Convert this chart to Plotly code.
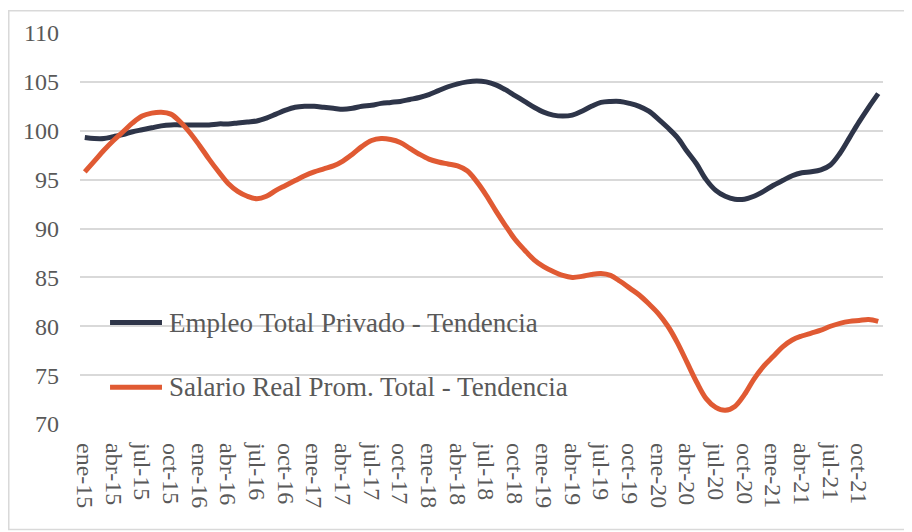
import plotly.graph_objects as go

# meses ene-15 .. dic-21
mes_nombres = ['ene', 'feb', 'mar', 'abr', 'may', 'jun',
               'jul', 'ago', 'sep', 'oct', 'nov', 'dic']
anios = ['15', '16', '17', '18', '19', '20', '21']
meses = [m + '-' + a for a in anios for m in mes_nombres]
ticks = meses[::3]

empleo = [
    99.3, 99.2, 99.2, 99.4, 99.6, 99.9, 100.1, 100.3, 100.5, 100.6, 100.6, 100.6,
    100.6, 100.6, 100.7, 100.7, 100.8, 100.9, 101.0, 101.3, 101.7, 102.1, 102.4, 102.5,
    102.5, 102.4, 102.3, 102.2, 102.3, 102.5, 102.6, 102.8, 102.9, 103.0, 103.2, 103.4,
    103.7, 104.1, 104.5, 104.8, 105.0, 105.1, 105.0, 104.7, 104.2, 103.6, 103.0, 102.4,
    101.9, 101.6, 101.5, 101.6, 102.0, 102.5, 102.9, 103.0, 103.0, 102.8, 102.5, 102.0,
    101.2, 100.3, 99.3, 97.9, 96.6, 95.0, 93.9, 93.3, 93.0, 93.0, 93.3, 93.8,
    94.4, 94.9, 95.4, 95.7, 95.8, 96.0, 96.5, 97.7, 99.3, 100.9, 102.4, 103.8,
]

salario = [
    95.8, 96.9, 98.0, 99.0, 99.9, 100.8, 101.5, 101.8, 101.9, 101.7, 100.9, 99.8,
    98.5, 97.1, 95.8, 94.6, 93.8, 93.3, 93.05, 93.3, 93.9, 94.4, 94.9, 95.4,
    95.8, 96.1, 96.4, 96.9, 97.6, 98.4, 99.0, 99.2, 99.1, 98.8, 98.2, 97.6,
    97.1, 96.8, 96.6, 96.4, 95.9, 94.8, 93.4, 91.8, 90.3, 88.9, 87.8, 86.8,
    86.1, 85.6, 85.2, 85.0, 85.1, 85.3, 85.4, 85.2, 84.6, 83.9, 83.2, 82.3,
    81.3, 80.0, 78.3, 76.3, 74.3, 72.6, 71.7, 71.4, 71.8, 73.0, 74.6, 75.9,
    76.9, 77.9, 78.6, 79.0, 79.3, 79.6, 80.0, 80.3, 80.5, 80.6, 80.7, 80.5,
]

nombres = ['Empleo Total Privado - Tendencia',
           'Salario Real Prom. Total - Tendencia']
colores = ['#2E3549', '#E05A33']

fuente = 'Liberation Serif'
gris_texto = '#595959'
gris_linea = '#D9D9D9'

fig = go.Figure()
for serie, nombre, color in zip([empleo, salario], nombres, colores):
    fig.add_trace(go.Scatter(
        x=meses, y=serie, mode='lines', name=nombre,
        line=dict(color=color, width=5, shape='spline')))

# leyenda dibujada a mano dentro del area (lineas largas como en Excel)
shapes = [dict(type='rect', xref='paper', yref='paper',
               x0=-0.0887, x1=1.0336, y0=-0.2697, y1=1.0566,
               line=dict(color=gris_linea, width=1.5))]
annotations = []
for fila, (nombre, color) in enumerate(zip(nombres, colores)):
    yl = 0.2595 - fila * 0.1654
    shapes.append(dict(type='line', xref='paper', yref='paper',
                       x0=0.0374, x1=0.1021, y0=yl, y1=yl,
                       line=dict(color=color, width=5)))
    annotations.append(dict(xref='paper', yref='paper', x=0.1083, y=yl,
                            xanchor='left', yanchor='middle', showarrow=False,
                            text=nombre,
                            font=dict(family=fuente, size=27, color=gris_texto)))

fig.update_layout(
    width=904, height=524,
    margin=dict(l=72, r=29, t=23, b=108),
    paper_bgcolor='white', plot_bgcolor='white',
    font=dict(family=fuente, size=24, color=gris_texto),
    showlegend=False,
    xaxis=dict(type='category', range=[-0.5, len(meses) - 0.5],
               tickmode='array', tickvals=ticks, ticktext=ticks,
               tickangle=90, showgrid=False, zeroline=False,
               showline=False, ticks='', ticklabelstandoff=18,
               tickfont=dict(family=fuente, size=24, color=gris_texto)),
    yaxis=dict(range=[70, 110], dtick=5, showgrid=True,
               gridcolor=gris_linea, gridwidth=1.5, zeroline=False,
               showline=False, ticks='', ticklabelstandoff=20,
               tickfont=dict(family=fuente, size=24, color=gris_texto)),
    shapes=shapes,
    annotations=annotations,
)

fig.write_html('out.html')
